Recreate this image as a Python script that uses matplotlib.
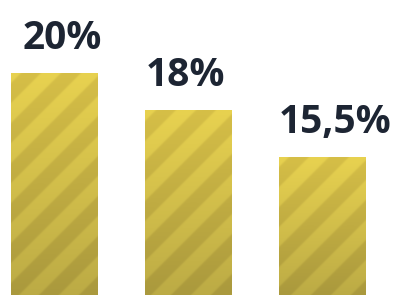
import matplotlib
matplotlib.use("Agg")
import matplotlib.pyplot as plt
import numpy as np
from matplotlib.colors import to_rgb

# Datos del gráfico
categories = ["A", "B", "C"]
values = [20.0, 18.0, 15.5]
labels = ["20%", "18%", "15,5%"]

# Desplazamiento horizontal de cada etiqueta (en unidades de categoría)
label_dx = [0.06, -0.02, 0.10]

LIGHT_TOP, LIGHT_BOT = "#e8d250", "#bcab45"
DARK_TOP, DARK_BOT = "#d6bf47", "#aa993d"
TEXT_COLOR = "#1d2533"
STRIPE_PERIOD = 40  # px

fig = plt.figure(figsize=(3.97, 2.95), dpi=100)
ax = fig.add_axes([0, 0, 1, 1])
ax.set_xlim(-0.403, 2.56)
ax.set_ylim(8.1, 23.9)
ax.axis("off")

x = np.arange(len(categories))
bars = ax.bar(x, values, width=0.642, color=LIGHT_TOP, linewidth=0)


def stripe_image(w, h):
    # franjas diagonales "/" con degradado vertical
    yy, xx = np.mgrid[0:h, 0:w]
    t = (yy / max(h - 1, 1))[..., None]
    light = (1 - t) * np.array(to_rgb(LIGHT_TOP)) + t * np.array(to_rgb(LIGHT_BOT))
    dark = (1 - t) * np.array(to_rgb(DARK_TOP)) + t * np.array(to_rgb(DARK_BOT))
    phase = ((xx + yy) % STRIPE_PERIOD) / STRIPE_PERIOD
    # borde suave entre franjas
    m = np.clip(np.abs(phase - 0.5) * 4 - 0.5, 0, 1)[..., None]
    m = 0.5 + 0.5 * np.tanh((np.abs(phase - 0.5) - 0.25) * 30)[..., None]
    return m * light + (1 - m) * dark


fig.canvas.draw()
ylo = ax.get_ylim()[0]
for bar in bars:
    x0, x1 = bar.get_x(), bar.get_x() + bar.get_width()
    top = bar.get_height()
    (px0, py0), (px1, py1) = ax.transData.transform([(x0, ylo), (x1, top)])
    w, h = int(abs(px1 - px0)) + 1, int(abs(py1 - py0)) + 1
    img = stripe_image(w, h)
    im = ax.imshow(img, extent=(x0, x1, ylo, top), aspect="auto",
                   interpolation="bilinear", zorder=2)
    im.set_clip_path(bar)

for xi, v, lab, dx in zip(x, values, labels, label_dx):
    ax.annotate(lab, (xi + dx, v), xytext=(0, 24), textcoords="offset pixels",
                ha="center", va="baseline", fontsize=28, fontweight="bold",
                family=["Open Sans", "DejaVu Sans"], color=TEXT_COLOR, zorder=3)

fig.savefig("out.png", dpi=100, facecolor="white")
